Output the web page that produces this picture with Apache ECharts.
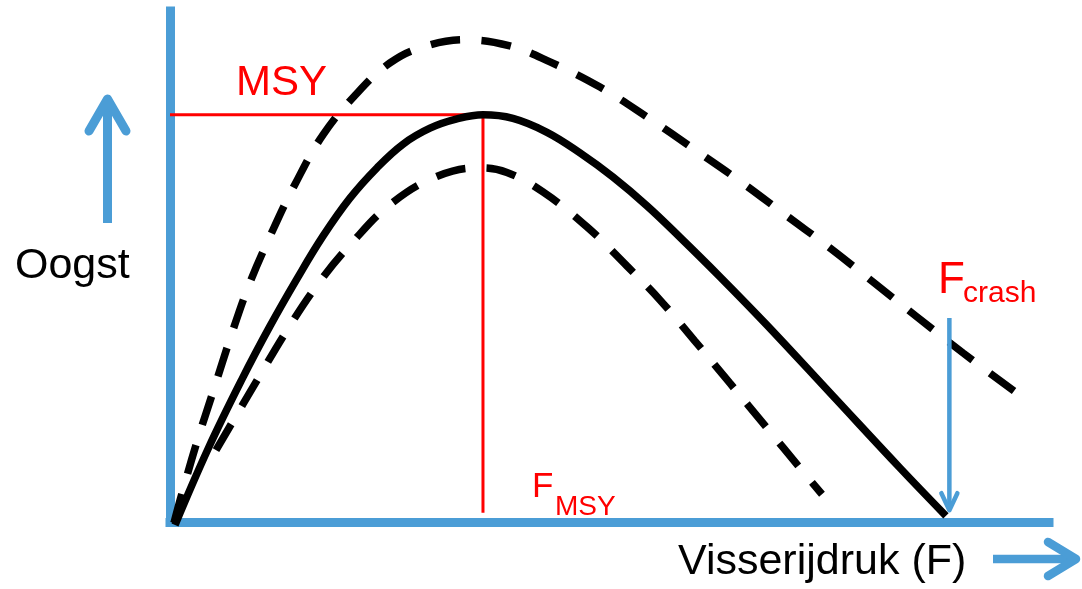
<!DOCTYPE html>
<html>
<head>
<meta charset="utf-8">
<script src="https://cdn.jsdelivr.net/npm/echarts@6/dist/echarts.min.js"></script>
<style>
html,body{margin:0;padding:0;background:#fff;}
#c{width:1082px;height:589px;}
</style>
</head>
<body>
<div id="c"></div>
<script>
// ---- data (F = fishing pressure, Y = harvest) ----
const solidCurve = [[0.57,-0.58],[4.31,14.2],[8.17,27.8],[11.34,38.1],[14.4,47.3],[17.35,55.6],[20.41,63.0],[23.48,68.9],[26.43,73.5],[29.49,76.6],[32.55,78.4],[35.5,79.2],[38.9,78.5],[42.76,75.8],[46.5,71.8],[50.24,67.1],[54.1,61.5],[57.84,55.4],[62.38,47.7],[67.71,38.3],[75.2,24.5],[82.8,10.5],[88.01,1.2]];
const upperDashed = [[0.45,-0.2],[1.25,4.9],[3.06,15.6],[4.99,25.9],[6.92,36.2],[8.96,46.1],[11.46,56.0],[14.18,65.7],[17.35,75.3],[21.32,83.6],[24.95,89.3],[28.35,92.2],[33.46,93.8],[38.56,92.6],[43.1,89.5],[48.77,84.6],[54.1,78.8],[59.54,72.4],[64.65,66.3],[69.52,60.1],[74.86,53.3],[79.73,46.7],[84.72,39.9],[89.94,32.9],[96.18,24.9]];
const lowerDashed = [[5.22,14.0],[9.75,27.2],[13.27,37.3],[16.79,46.3],[20.53,54.1],[25.07,61.9],[30.4,67.3],[35.16,68.9],[38.22,68.0],[42.3,64.2],[47.3,57.4],[51.83,49.8],[55.57,43.2],[59.54,35.2],[63.51,27.0],[67.71,18.3],[71.45,10.5],[73.95,5.4]];
const MSY = 79.2;
const FMSY = 35.5;
const FCRASH = 88.4;
const FCRASH_ARROW = [FCRASH, 39.7, 2.3]; // x, top, tip
const labels = {msy:'MSY', f:'F', fmsySub:'MSY', fcrashSub:'crash', yTitle:'Oogst', xTitle:'Visserijdruk (F)'};

const BLUE = '#4b9dd6';
const RED = '#ff0000';
const FONT = '"Liberation Sans", Arial, sans-serif';

const chart = echarts.init(document.getElementById('c'), null, {renderer:'canvas'});

function txt(x, y, text, size, color){
  return {type:'text', x:x, y:y, silent:true, z:100,
    style:{text:text, fill:color, font: size + 'px ' + FONT, textAlign:'left', textVerticalAlign:'middle', verticalAlign:'middle'}};
}

const option = {
  animation:false,
  backgroundColor:'#ffffff',
  grid:{left:170, right:33, top:11, bottom:67},
  xAxis:{type:'value', min:0, max:99.7,
    axisLine:{show:true, onZero:false, lineStyle:{color:BLUE, width:9, cap:'square'}},
    axisTick:{show:false}, axisLabel:{show:false}, splitLine:{show:false}},
  yAxis:{type:'value', min:0, max:99.4,
    axisLine:{show:true, onZero:false, lineStyle:{color:BLUE, width:9, cap:'square'}},
    axisTick:{show:false}, axisLabel:{show:false}, splitLine:{show:false}},
  series:[
    {type:'line', name:'msyRef', silent:true, clip:false, showSymbol:false, z:1,
      data:[[0,MSY],[FMSY,MSY],[FMSY,1.8]],
      lineStyle:{color:RED, width:3, cap:'butt', join:'miter'}},
    {type:'line', name:'upper', silent:true, clip:false, showSymbol:false, smooth:0.4, z:2,
      data:upperDashed, lineStyle:{color:'#000', width:7.5, type:[30,21], cap:'butt'}},
    {type:'line', name:'lower', silent:true, clip:false, showSymbol:false, smooth:0.4, z:2,
      data:lowerDashed, lineStyle:{color:'#000', width:7.5, type:[30,21], cap:'butt'}},
    {type:'line', name:'solid', silent:true, clip:false, showSymbol:false, smooth:0.4, z:3,
      data:solidCurve, lineStyle:{color:'#000', width:7.5, cap:'butt'}},
    {type:'custom', name:'fcrash', silent:true, z:4,
      data:[FCRASH_ARROW],
      renderItem:function(params, api){
        const top = api.coord([api.value(0), api.value(1)]);
        const tip = api.coord([api.value(0), api.value(2)]);
        return {type:'group', children:[
          {type:'line', shape:{x1:top[0], y1:top[1], x2:tip[0], y2:tip[1]-2}, style:{stroke:BLUE, lineWidth:4.5, lineCap:'butt'}},
          {type:'polyline', shape:{points:[[tip[0]-8, tip[1]-17],[tip[0], tip[1]],[tip[0]+8, tip[1]-17]]},
            style:{stroke:BLUE, fill:null, lineWidth:4.5, lineCap:'round', lineJoin:'round'}}
        ]};
      }}
  ],
  graphic:[
    // y title arrow
    {type:'line', silent:true, shape:{x1:107.5, y1:223, x2:107.5, y2:102}, style:{stroke:BLUE, lineWidth:9, lineCap:'butt'}},
    {type:'polyline', silent:true, shape:{points:[[89,131],[107.5,99],[126,131]]}, style:{stroke:BLUE, fill:null, lineWidth:9, lineCap:'round', lineJoin:'round'}},
    // x title arrow
    {type:'line', silent:true, shape:{x1:993, y1:559, x2:1073, y2:559}, style:{stroke:BLUE, lineWidth:8.5, lineCap:'butt'}},
    {type:'polyline', silent:true, shape:{points:[[1048,542],[1076,559],[1048,576]]}, style:{stroke:BLUE, fill:null, lineWidth:8.5, lineCap:'round', lineJoin:'round'}},
    txt(15, 266, labels.yTitle, 43, '#000'),
    txt(678, 562, labels.xTitle, 43, '#000'),
    txt(236, 83, labels.msy, 42, RED),
    txt(532, 487, labels.f, 35, RED),
    txt(555, 507, labels.fmsySub, 28, RED),
    txt(938, 281, labels.f, 44, RED),
    txt(963, 294, labels.fcrashSub, 30, RED)
  ]
};
chart.setOption(option);
</script>
</body>
</html>
